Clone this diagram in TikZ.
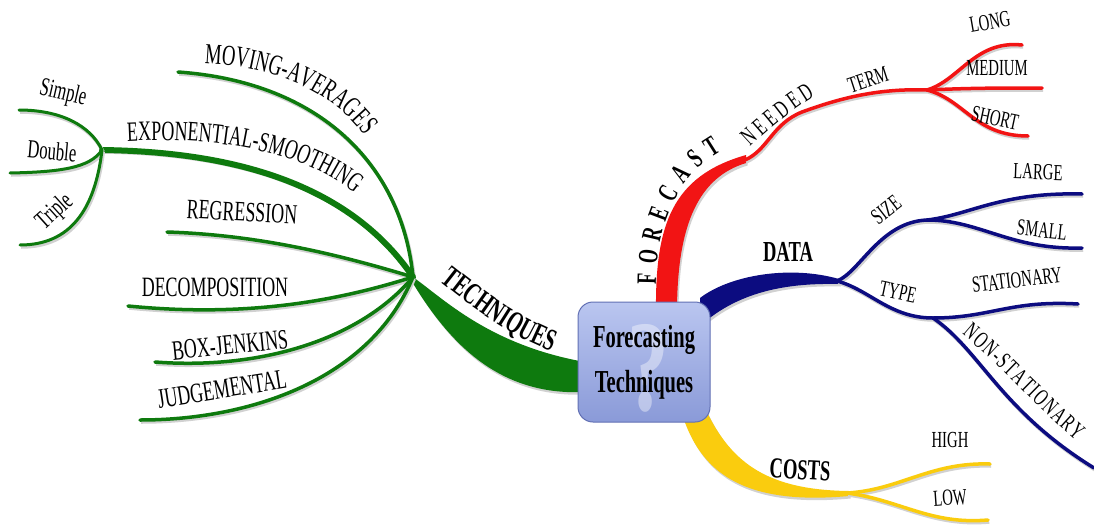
\documentclass[tikz,border=0pt]{standalone}
\usepackage{fontspec}
\setmainfont[FakeStretch=0.64]{Liberation Serif}
\usetikzlibrary{decorations.text}

\definecolor{techgreen}{RGB}{14,122,14}
\definecolor{fcred}{RGB}{242,20,20}
\definecolor{datablue}{RGB}{12,12,128}
\definecolor{costyellow}{RGB}{250,204,14}
\definecolor{boxtop}{RGB}{186,198,240}
\definecolor{boxbot}{RGB}{138,154,216}
\definecolor{boxrim}{RGB}{98,112,180}

\begin{document}
\begin{tikzpicture}[x=1pt,y=-1pt,
  twig/.style={draw=#1,line width=3.5pt,line cap=round,
    preaction={draw=black!18,line width=3.5pt,transform canvas={shift={(1.2,2)}}}},
  limb/.style={fill=#1,preaction={fill=black!18,transform canvas={shift={(1.5,2.5)}}}},
  leaf/.style={inner sep=0pt,font=\fontsize{28}{28}\selectfont},
  small/.style={inner sep=0pt,font=\fontsize{23}{23}\selectfont},
  bold/.style={inner sep=0pt,font=\bfseries\fontsize{29}{29}\selectfont},
  core/.style={draw=boxrim,line width=1pt,rounded corners=15pt,top color=boxtop,bottom color=boxbot,
    minimum width=132pt,minimum height=120pt}]

\fill[white] (0,0) rectangle (1094,525);
\useasboundingbox (0,0) rectangle (1094,525);

% hubs
\coordinate (hubT) at (413,277);
\coordinate (hubE) at (102,150);
\coordinate (hubF) at (927,90);
\coordinate (hubD) at (837,281);
\coordinate (hubS) at (927,220);
\coordinate (hubY) at (933,318);
\coordinate (hubC) at (847,493);

% leaf ends
\coordinate (eSimple) at (19,110);
\coordinate (eDouble) at (10,173);
\coordinate (eTriple) at (20,245);
\coordinate (eMoving) at (178,72);
\coordinate (eRegr) at (167,232);
\coordinate (eDecomp) at (128,306);
\coordinate (eBox) at (155,362);
\coordinate (eJudg) at (140,420);
\coordinate (eLong) at (1022,45);
\coordinate (eMedium) at (1042,88);
\coordinate (eShort) at (1028,136);
\coordinate (eLarge) at (1082,194);
\coordinate (eSmall) at (1082,248);
\coordinate (eStat) at (1078,304);
\coordinate (eNonstat) at (1094,468);
\coordinate (eHigh) at (990,464);
\coordinate (eLow) at (988,520);
\coordinate (eFc) at (745,160);

% techniques
\fill[limb=techgreen] (hubT) .. controls (445,300) and (490,345) .. (585,362)
  -- (585,392) .. controls (500,396) and (450,345) .. (411,280) -- cycle;
\draw[twig=techgreen] (hubT) .. controls (402,165) and (320,82) .. (eMoving);
\draw[twig=techgreen,line width=6pt] (hubT) .. controls (355,192) and (250,152) .. (hubE);
\draw[twig=techgreen] (hubT) .. controls (340,255) and (260,235) .. (eRegr);
\draw[twig=techgreen] (hubT) .. controls (340,300) and (250,318) .. (eDecomp);
\draw[twig=techgreen] (hubT) .. controls (360,340) and (260,370) .. (eBox);
\draw[twig=techgreen] (hubT) .. controls (370,380) and (250,420) .. (eJudg);
\draw[twig=techgreen,line width=3pt] (hubE) .. controls (90,125) and (60,110) .. (eSimple);
\draw[twig=techgreen,line width=3pt] (hubE) .. controls (90,168) and (60,172) .. (eDouble);
\draw[twig=techgreen,line width=3pt] (hubE) .. controls (95,210) and (70,245) .. (eTriple);

% forecast
\fill[limb=fcred] (656,312) .. controls (655,225) and (672,176) .. (746,155)
  -- (746,163) .. controls (700,177) and (677,222) .. (677,312) -- cycle;
\draw[twig=fcred] (eFc) .. controls (768,150) and (772,124) .. (802,112)
  .. controls (835,100) and (875,88) .. (hubF);
\draw[twig=fcred] (hubF) .. controls (960,80) and (975,40) .. (eLong);
\draw[twig=fcred] (hubF) .. controls (970,88) and (1000,88) .. (eMedium);
\draw[twig=fcred] (hubF) .. controls (965,100) and (975,136) .. (eShort);

% data
\fill[limb=datablue] (700,298) .. controls (730,275) and (790,265) .. (839,279)
  -- (839,284) .. controls (790,283) and (740,290) .. (700,326) -- cycle;
\draw[twig=datablue] (hubD) .. controls (860,272) and (880,222) .. (hubS);
\draw[twig=datablue] (hubS) .. controls (970,215) and (1000,192) .. (eLarge);
\draw[twig=datablue] (hubS) .. controls (980,220) and (1010,250) .. (eSmall);
\draw[twig=datablue] (hubD) .. controls (870,290) and (890,318) .. (hubY);
\draw[twig=datablue] (hubY) .. controls (990,318) and (1010,300) .. (eStat);
\draw[twig=datablue] (hubY) .. controls (980,350) and (1000,410) .. (eNonstat);

% costs
\fill[limb=costyellow] (682,414) .. controls (700,470) and (740,506) .. (849,496)
  -- (849,491) .. controls (770,490) and (732,465) .. (706,410) -- cycle;
\draw[twig=costyellow] (hubC) .. controls (900,490) and (930,462) .. (eHigh);
\draw[twig=costyellow] (hubC) .. controls (900,500) and (930,525) .. (eLow);

% centre
\node[core] (core) at (644,362) {};
\node[text=white,opacity=0.4,font=\bfseries\fontsize{130}{130}\selectfont] (qmark) at (648,368) {?};
\node[align=center,inner sep=0pt,font=\bfseries\fontsize{32}{45}\selectfont] (title) at (core) {Forecasting\\Techniques};

% labels
\node[leaf,font=\fontsize{26}{26}\selectfont,rotate=-13] (simple) at (63,94) {Simple};
\node[leaf,font=\fontsize{26}{26}\selectfont,rotate=-5] (double) at (52,151) {Double};
\node[leaf,font=\fontsize{26}{26}\selectfont,rotate=42] (triple) at (55,212) {Triple};
\node[leaf,rotate=-3] (regr) at (242,212) {REGRESSION};
\node[leaf] (decomp) at (215,287) {DECOMPOSITION};
\node[leaf,rotate=6] (boxj) at (230,345) {BOX-JENKINS};
\node[leaf,rotate=9] (judg) at (222,389) {JUDGEMENTAL};
\path[decorate,decoration={text along path,text align=center,
  text={|\fontsize{29}{29}\selectfont|MOVING-AVERAGES}}]
  (190,63) .. controls (275,62) and (345,97) .. (372,148);
\path[decorate,decoration={text along path,text align=center,
  text={|\fontsize{28}{28}\selectfont|EXPONENTIAL-SMOOTHING}}]
  (112,142) .. controls (220,134) and (315,153) .. (366,204);
\path[decorate,decoration={text along path,text align=center,
  text={|\bfseries\fontsize{31}{31}\selectfont|TECHNIQUES}}]
  (428,272) .. controls (470,305) and (515,342) .. (566,356);

\path[decorate,decoration={text along path,text align=fit to path,
  text={|\bfseries\fontsize{28}{28}\selectfont|FORECAST}}]
  (656,284) .. controls (656,220) and (680,175) .. (722,151);
\path[decorate,decoration={text along path,text align=fit to path,
  text={|\fontsize{25}{25}\selectfont|NEEDED}}]
  (750,147) .. controls (770,128) and (795,108) .. (815,96);
\node[small,rotate=18] (term) at (868,80) {TERM};
\node[small,rotate=10] (long) at (990,22) {LONG};
\node[small] (medium) at (997,68) {MEDIUM};
\node[small,rotate=-12] (short) at (995,118) {SHORT};

\node[bold] (data) at (788,252) {DATA};
\node[small,rotate=38] (size) at (886,210) {SIZE};
\node[small,rotate=-2] (large) at (1038,172) {LARGE};
\node[small,rotate=-6] (smallsz) at (1042,230) {SMALL};
\node[small,rotate=-12] (type) at (898,292) {TYPE};
\node[small,rotate=7] (stat) at (1017,280) {STATIONARY};
\path[decorate,decoration={text along path,text align=fit to path,
  text={|\fontsize{24}{24}\selectfont|NON-STATIONARY}}]
  (962,334) .. controls (998,364) and (1036,406) .. (1076,441);

\node[bold,rotate=-3] (costs) at (800,470) {COSTS};
\node[small] (high) at (950,440) {HIGH};
\node[small,rotate=4] (low) at (950,498) {LOW};
\end{tikzpicture}
\end{document}
